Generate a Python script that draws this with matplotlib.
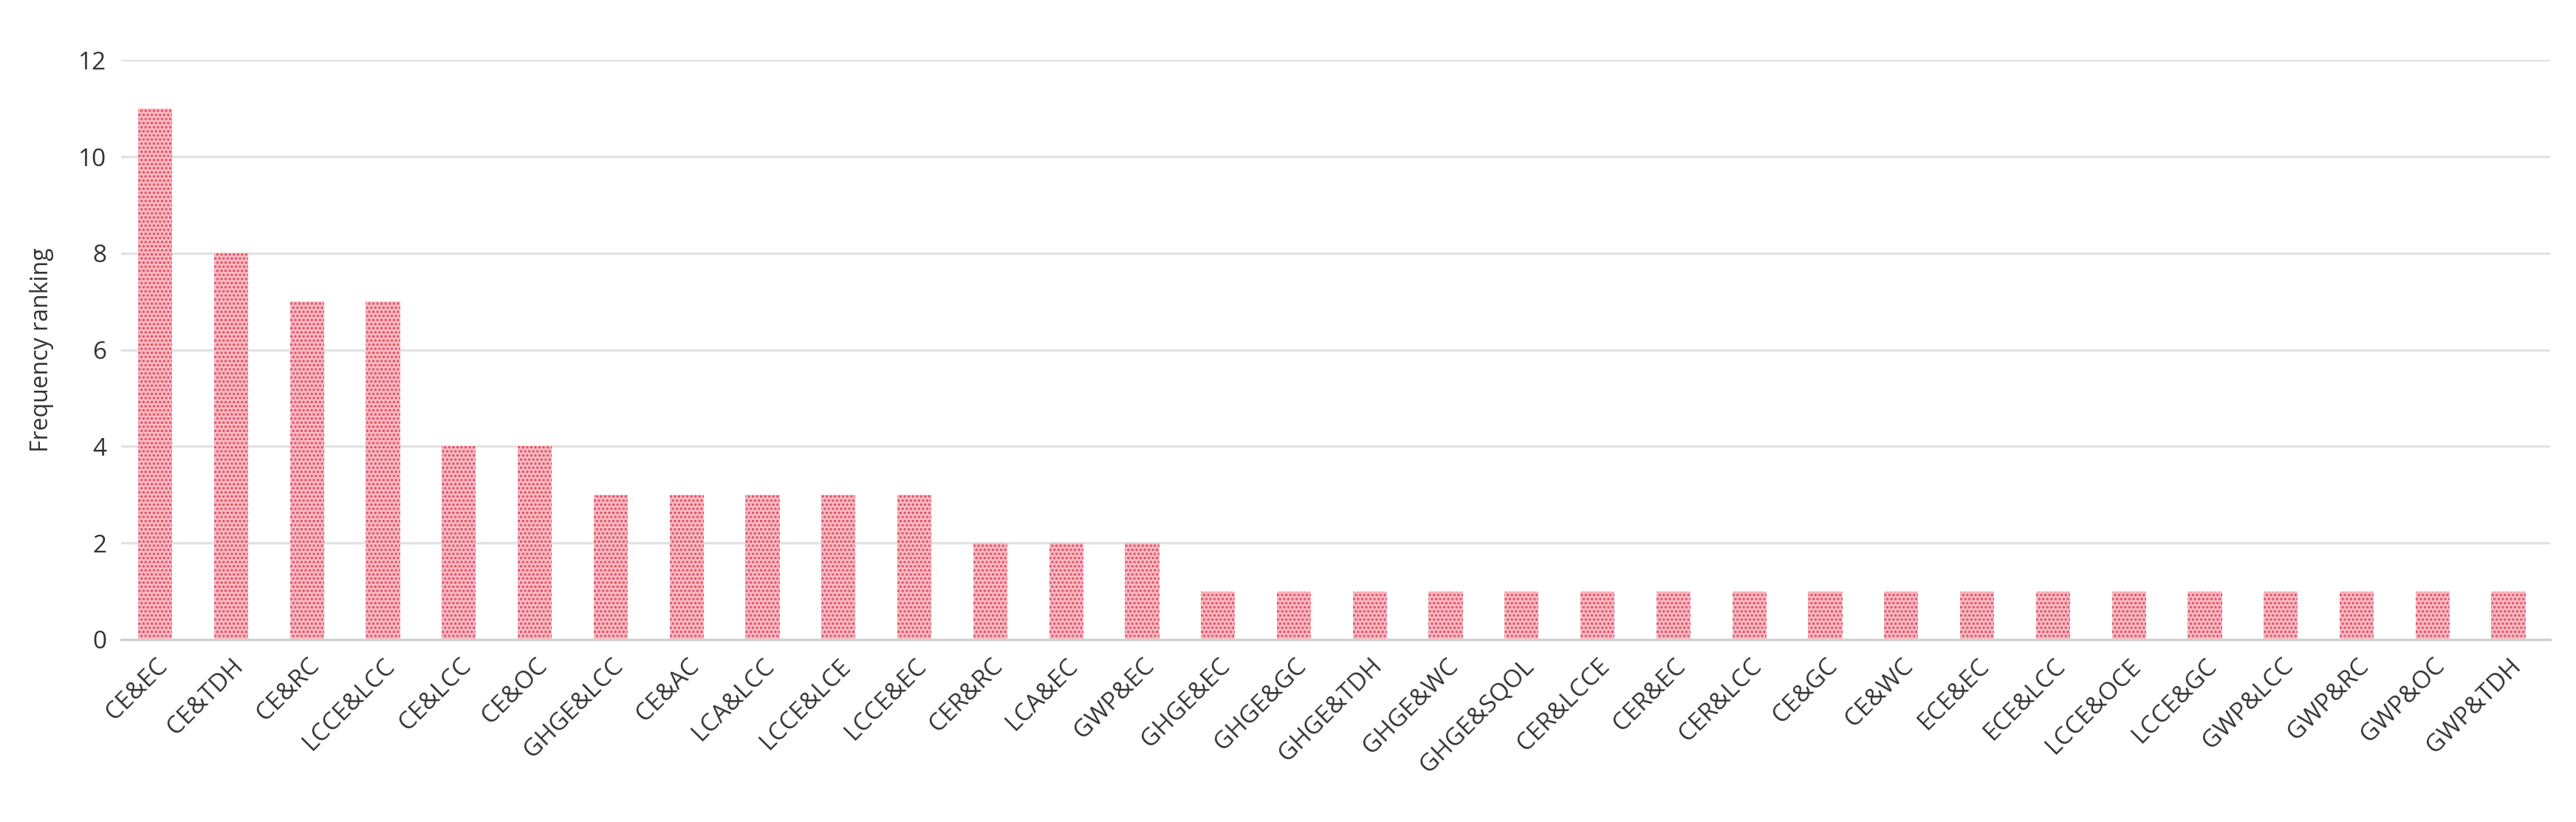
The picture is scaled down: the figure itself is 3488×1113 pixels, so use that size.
import matplotlib
matplotlib.use("Agg")
import matplotlib.pyplot as plt

categories = ["CE&EC", "CE&TDH", "CE&RC", "LCCE&LCC", "CE&LCC", "CE&OC", "GHGE&LCC",
              "CE&AC", "LCA&LCC", "LCCE&LCE", "LCCE&EC", "CER&RC", "LCA&EC", "GWP&EC",
              "GHGE&EC", "GHGE&GC", "GHGE&TDH", "GHGE&WC", "GHGE&SQOL", "CER&LCCE",
              "CER&EC", "CER&LCC", "CE&GC", "CE&WC", "ECE&EC", "ECE&LCC", "LCCE&OCE",
              "LCCE&GC", "GWP&LCC", "GWP&RC", "GWP&OC", "GWP&TDH"]
values = [11, 8, 7, 7, 4, 4, 3, 3, 3, 3, 3, 2, 2, 2,
          1, 1, 1, 1, 1, 1, 1, 1, 1, 1, 1, 1, 1, 1, 1, 1, 1, 1]

plt.rcParams["font.family"] = ["Open Sans", "DejaVu Sans"]
plt.rcParams["hatch.linewidth"] = 0.8

fig = plt.figure(figsize=(17.44, 5.565), dpi=200)
ax = fig.add_axes([0.047, 0.222, 0.943, 0.705])

x = range(len(categories))
ax.bar(x, values, width=0.45, facecolor="#f5bcc4", edgecolor="#e8485e",
       hatch="......", linewidth=0)

ax.set_ylim(0, 12)
ax.set_xlim(-0.45, len(categories) - 0.45)
ax.set_yticks(range(0, 13, 2))
ax.yaxis.grid(True, color="#e2e2e2", linewidth=1.2)
ax.set_axisbelow(True)
for s in ["top", "right", "left"]:
    ax.spines[s].set_visible(False)
ax.spines["bottom"].set_color("#d0d0d0")
ax.spines["bottom"].set_linewidth(1.2)
ax.tick_params(axis="both", length=0, labelsize=12, colors="#333333", pad=7)
ax.set_xticks(list(x))
ax.set_xticklabels(categories, rotation=45, ha="right", rotation_mode="anchor")
ax.set_ylabel("Frequency ranking", fontsize=11.5, color="#333333", labelpad=12)

fig.savefig("out.png", dpi=200)
